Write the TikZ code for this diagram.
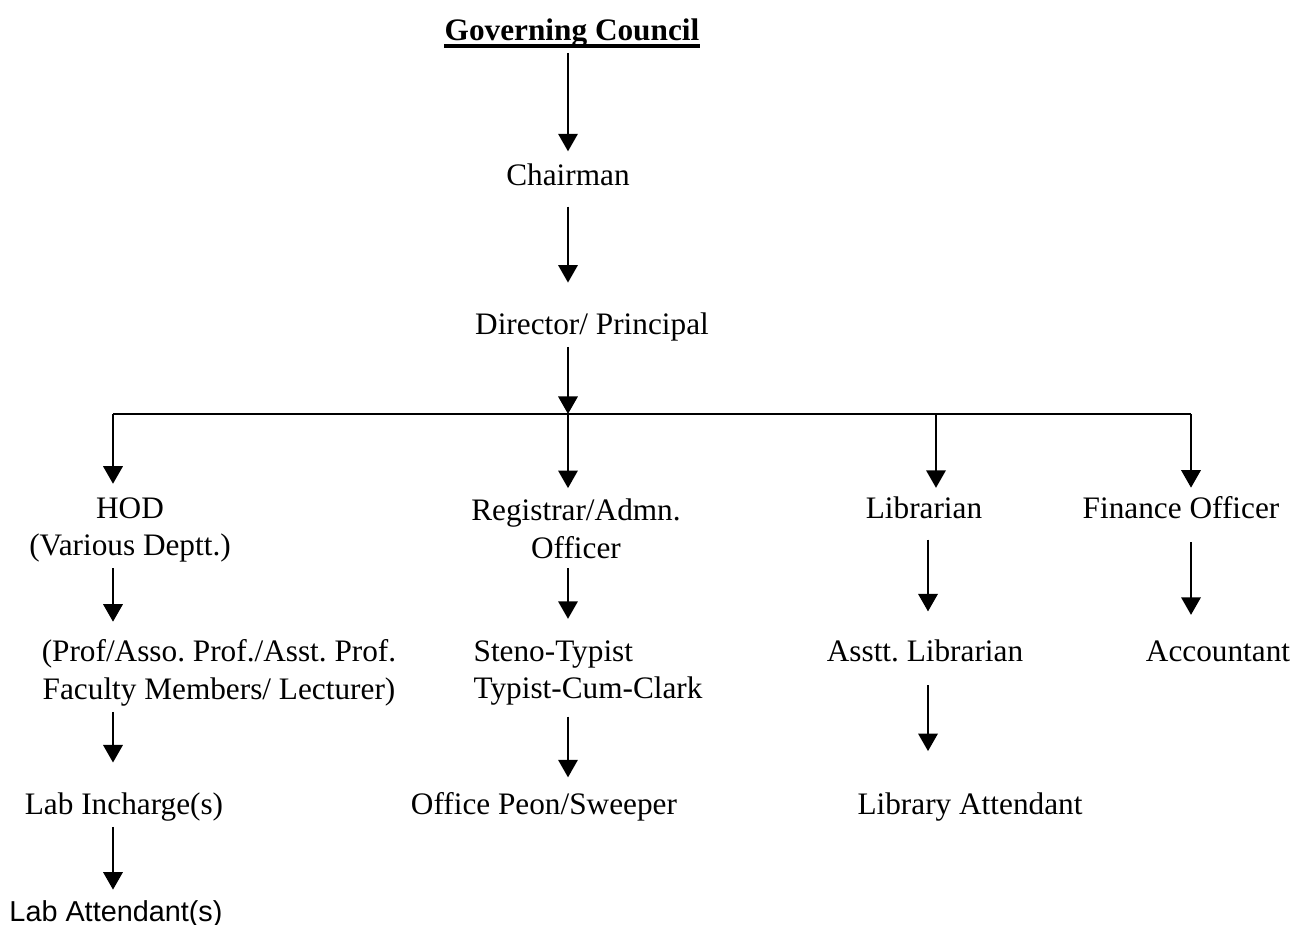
\documentclass[tikz,border=0pt]{standalone}
\usepackage{fontspec}
\setmainfont{Liberation Serif}
\setsansfont{Liberation Sans}
\usetikzlibrary{arrows.meta}
\tikzset{
	post/.style={text=black,font=\fontsize{17.8}{21.6}\selectfont,inner sep=3pt},
	link/.style={line width=1.4pt,-{Triangle[length=10pt,width=11pt]}}
}
\frenchspacing
\begin{document}
\begin{tikzpicture}[x=0.02cm,y=-0.02cm]
		\useasboundingbox (0,0) rectangle (1295,925);
		\node[post,font=\fontsize{17.8}{21.6}\selectfont\bfseries] (gc) at (572,33) {Governing Council};
		\draw[line width=2.3pt] ([yshift=-3pt]gc.base west) ++(3pt,0) -- ([yshift=-3pt,xshift=-3pt]gc.base east);
		\node[post] (chair) at (568,175) {Chairman};
		\node[post] (dir) at (592,327) {Director/ Principal};
		\coordinate (b1) at (113,414);
		\coordinate (b2) at (568,414);
		\coordinate (b3) at (936,414);
		\coordinate (b4) at (1191,414);
		\node[post,align=center] (hod) at (130,530) {HOD\\(Various Deptt.)};
		\node[post,align=center] (reg) at (576,529) {Registrar/Admn.\\Officer};
		\node[post] (lib) at (924,508) {Librarian};
		\node[post] (fin) at (1181,508) {Finance Officer};
		\node[post,align=center] (prof) at (219,673) {(Prof/Asso. Prof./Asst. Prof.\\Faculty Members/ Lecturer)};
		\node[post,align=left,anchor=west] (steno) at (468,673) {Steno-Typist\\Typist-Cum-Clark};
		\node[post] (alib) at (925,651) {Asstt. Librarian};
		\node[post] (acct) at (1218,651) {Accountant};
		\node[post] (labinc) at (124,807) {Lab Incharge(s)};
		\node[post] (peon) at (544,807) {Office Peon/Sweeper};
		\node[post] (libatt) at (970,807) {Library Attendant};
		\node[post,font=\fontsize{16.4}{20}\selectfont\sffamily] (labatt) at (116,914) {Lab Attendant(s)};
		\draw[link,shorten >=4pt] (gc.south -| chair) -- (chair.north);
		\draw[link,shorten <=8.5pt,shorten >=14pt] (chair.south -| b2) -- (dir.north -| b2);
		\draw[link] (dir.south -| b2) -- (b2);
		\draw[line width=1.4pt] (b1) -- (b4);
		\draw[link,shorten >=4.5pt] (b1) -- (hod.north -| b1);
		\draw[link,shorten >=3pt] (b2) -- (reg.north -| b2);
		\draw[link,shorten >=2pt] (b3) -- (lib.north -| b3);
		\draw[link,shorten >=2pt] (b4) -- (fin.north -| b4);
		\draw[link,shorten >=7pt] (hod.south -| b1) -- (prof.north -| b1);
		\draw[link,shorten <=2pt,shorten >=9pt] (reg.south -| b2) -- (steno.north -| b2);
		\draw[link,shorten <=8.5pt,shorten >=13pt] (lib.south -| 928,0) -- (alib.north -| 928,0);
		\draw[link,shorten <=10pt,shorten >=11.4pt] (fin.south -| b4) -- (acct.north -| b4);
		\draw[link,shorten <=0pt,shorten >=14pt] (prof.south -| b1) -- (labinc.north -| b1);
		\draw[link,shorten <=3pt,shorten >=5.5pt] (steno.south -| b2) -- (peon.north -| b2);
		\draw[link,shorten <=10pt,shorten >=20.5pt] (alib.south -| 928,0) -- (libatt.north -| 928,0);
		\draw[link,shorten >=3pt] (labinc.south -| b1) -- (labatt.north -| b1);
\end{tikzpicture}
\end{document}
